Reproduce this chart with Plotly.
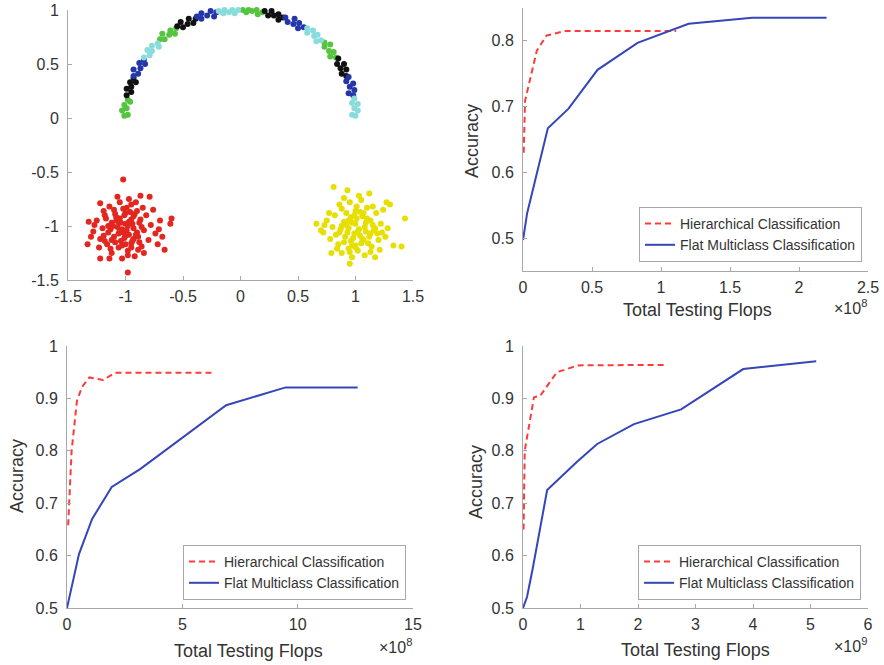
import plotly.graph_objects as go

# ---------------- data: top-left scatter ----------------
arc_green_x = [-0.98, -0.96, -1.01, -0.99, -1.03, -0.98, -1.01,
               -0.56, -0.57, -0.61, -0.62, -0.68, -0.66, -0.70,
               0.19, 0.15, 0.14, 0.10, 0.07, 0.05, 0.02,
               0.83, 0.78, 0.81, 0.77, 0.78, 0.73, 0.73]
arc_green_y = [0.17, 0.15, 0.12, 0.09, 0.07, 0.03, 0.02,
               0.83, 0.78, 0.81, 0.77, 0.78, 0.73, 0.73,
               0.98, 0.96, 1.00, 0.99, 1.00, 0.98, 1.00,
               0.56, 0.57, 0.61, 0.62, 0.68, 0.66, 0.70]
arc_black_x = [-0.93, -0.91, -0.96, -0.95, -0.99, -0.95, -0.99,
               -0.39, -0.41, -0.45, -0.46, -0.52, -0.50, -0.55,
               0.37, 0.33, 0.33, 0.29, 0.27, 0.24, 0.21,
               0.92, 0.88, 0.92, 0.87, 0.90, 0.84, 0.85]
arc_black_y = [0.37, 0.33, 0.33, 0.29, 0.27, 0.24, 0.21,
               0.92, 0.88, 0.92, 0.87, 0.89, 0.84, 0.85,
               0.93, 0.91, 0.96, 0.95, 0.99, 0.95, 0.99,
               0.39, 0.41, 0.45, 0.46, 0.50, 0.50, 0.55]
arc_blue_x = [-0.84, -0.83, -0.88, -0.87, -0.93, -0.89, -0.93,
              -0.21, -0.23, -0.26, -0.29, -0.34, -0.34, -0.38,
              0.55, 0.50, 0.51, 0.46, 0.47, 0.41, 0.39,
              0.98, 0.94, 0.99, 0.95, 0.98, 0.92, 0.94]
arc_blue_y = [0.54, 0.50, 0.51, 0.46, 0.45, 0.41, 0.39,
              0.98, 0.94, 0.99, 0.95, 0.97, 0.92, 0.94,
              0.84, 0.83, 0.88, 0.87, 0.92, 0.89, 0.93,
              0.21, 0.23, 0.26, 0.29, 0.32, 0.34, 0.38]
arc_cyan_x = [-0.72, -0.71, -0.77, -0.77, -0.81, -0.79, -0.84,
              -0.02, -0.05, -0.07, -0.10, -0.14, -0.15, -0.19,
              0.70, 0.66, 0.67, 0.64, 0.63, 0.58, 0.58,
              1.00, 0.97, 1.02, 0.99, 1.02, 0.97, 0.99]
arc_cyan_y = [0.69, 0.66, 0.67, 0.62, 0.63, 0.58, 0.56,
              1.00, 0.97, 1.00, 0.98, 1.00, 0.97, 0.99,
              0.72, 0.71, 0.77, 0.76, 0.81, 0.79, 0.83,
              0.02, 0.03, 0.07, 0.09, 0.13, 0.14, 0.18]

red_x = [-1.02, -0.87, -0.79, -1.22, -0.60, -0.61, -1.32, -1.33, -1.22, -1.14,
         -0.98, -0.66, -0.68, -0.71, -1.05, -0.95, -1.10, -0.90, -1.00, -1.18,
         -0.82, -1.05, -0.95, -1.25, -1.12, -0.88, -1.00, -0.78, -1.20, -1.07,
         -0.93, -0.84, -1.28, -1.15, -1.02, -0.97, -0.89, -1.10, -1.22, -0.80,
         -1.04, -0.95, -1.16, -0.86, -1.06, -0.98, -1.12, -0.92, -1.03, -0.76,
         -1.14, -0.99, -0.93, -1.08, -1.03, -0.98, -1.13, -0.90, -1.19, -0.74,
         -1.27, -0.85, -1.17, -1.01, -0.96, -1.09, -0.87, -1.04, -0.94, -1.11,
         -0.99, -1.06, -0.93, -1.01, -1.09, -0.88, -1.00, -1.13, -0.95, -0.84,
         -1.23, -1.30, -0.97, -1.07, -0.91, -0.70, -0.72, -1.19,
         -1.02, -0.92, -1.08, -0.97, -1.15, -0.86, -1.05, -0.91, -1.00, -1.12,
         -0.94, -1.03, -0.89, -1.18, -0.98, -1.06]
red_y = [-0.57, -0.72, -0.73, -0.79, -0.93, -0.98, -0.96, -1.17, -1.30, -1.30,
         -1.43, -1.22, -1.10, -1.03, -0.78, -0.80, -0.85, -0.86, -0.88, -0.90,
         -0.90, -0.93, -0.94, -0.95, -0.97, -0.97, -0.98, -0.99, -1.02, -1.01,
         -1.02, -1.04, -1.05, -1.06, -1.06, -1.08, -1.10, -1.10, -1.12, -1.13,
         -1.14, -1.16, -1.17, -1.19, -1.20, -1.23, -1.25, -1.28, -1.30, -0.85,
         -0.82, -0.83, -0.91, -0.95, -1.03, -1.00, -1.03, -1.06, -1.09, -1.07,
         -0.99, -0.83, -0.93, -0.90, -0.87, -0.89, -0.94, -0.97, -0.98, -1.00,
         -1.04, -1.07, -1.12, -1.11, -1.15, -1.15, -1.17, -1.21, -1.20, -1.25,
         -1.20, -1.10, -0.75, -0.73, -0.78, -0.95, -1.17, -0.86,
         -0.84, -0.89, -0.92, -0.96, -1.00, -1.01, -1.04, -1.08, -1.09, -1.13,
         -1.14, -1.18, -1.22, -1.14, -1.27, -0.96]

yellow_x = [0.81, 0.93, 1.12, 1.43, 1.40, 0.95, 0.66, 0.70, 1.33, 1.30,
            1.27, 0.79, 1.17, 0.95, 1.05, 0.88, 1.10, 1.00, 1.18, 0.82,
            0.96, 1.06, 0.75, 0.90, 1.13, 1.00, 1.22, 0.80, 0.94, 1.08,
            1.16, 0.72, 0.86, 0.99, 1.04, 1.12, 0.91, 0.78, 1.20, 0.96,
            1.05, 0.85, 1.14, 0.94, 1.02, 0.88, 1.08, 0.97, 1.24, 0.86,
            1.01, 1.07, 0.92, 1.15, 0.97, 1.03, 0.88, 1.19, 1.26, 0.73,
            1.15, 0.83, 1.01, 0.98, 1.09, 0.93, 1.06, 1.11, 0.90, 1.00,
            0.95, 1.13, 1.28, 0.77, 1.03, 0.90, 1.21, 0.84,
            1.04, 0.99, 1.10, 0.92, 1.17, 1.02, 0.87, 1.07, 0.97, 1.13,
            1.00, 0.94, 1.09, 1.23]
yellow_y = [-0.64, -0.67, -0.70, -0.93, -1.19, -1.35, -0.98, -1.04, -1.18, -0.80,
            -0.78, -1.25, -1.29, -0.78, -0.76, -0.84, -0.83, -0.86, -0.88, -0.90,
            -0.92, -0.91, -0.95, -0.96, -0.95, -0.98, -0.98, -1.01, -1.02, -1.01,
            -1.04, -1.06, -1.06, -1.07, -1.09, -1.10, -1.10, -1.12, -1.13, -1.14,
            -1.16, -1.17, -1.19, -1.21, -1.23, -1.25, -1.27, -1.29, -0.85, -0.80,
            -0.82, -0.88, -0.88, -0.99, -0.97, -1.03, -1.00, -1.07, -1.10, -0.99,
            -0.82, -1.08, -0.93, -1.11, -1.05, -1.06, -1.12, -1.16, -1.15, -1.18,
            -1.24, -1.24, -1.02, -0.88, -0.72, -0.74, -1.22, -1.21,
            -0.87, -0.90, -0.93, -0.99, -1.02, -1.05, -1.03, -1.13, -1.18, -1.07,
            -1.20, -0.95, -0.97, -1.06]

# ---------------- data: accuracy vs flops ----------------
# top-right (x in units of 1e8)
tr_flat_x = [0, 0.03, 0.18, 0.33, 0.54, 0.83, 1.2, 1.66, 2.2]
tr_flat_y = [0.497, 0.538, 0.667, 0.697, 0.756, 0.797, 0.826, 0.835, 0.835]
tr_hier_x = [0.005, 0.015, 0.1, 0.17, 0.3, 1.11]
tr_hier_y = [0.63, 0.709, 0.785, 0.808, 0.815, 0.815]
# bottom-left (x in units of 1e8)
bl_flat_x = [0, 0.52, 1.09, 1.94, 3.17, 6.9, 9.48, 12.6]
bl_flat_y = [0.5, 0.603, 0.67, 0.731, 0.765, 0.887, 0.921, 0.921]
bl_hier_x = [0.05, 0.2, 0.43, 0.65, 0.97, 1.57, 2.08, 6.3]
bl_hier_y = [0.658, 0.8, 0.895, 0.922, 0.94, 0.935, 0.949, 0.949]
# bottom-right (x in units of 1e9)
br_flat_x = [0, 0.07, 0.17, 0.42, 0.94, 1.29, 1.93, 2.75, 3.83, 5.1]
br_flat_y = [0.5, 0.521, 0.576, 0.725, 0.779, 0.813, 0.851, 0.879, 0.956, 0.971]
br_hier_x = [0.01, 0.03, 0.19, 0.3, 0.59, 0.96, 2.5]
br_hier_y = [0.65, 0.8, 0.902, 0.905, 0.95, 0.963, 0.964]

tl_ticks = [-1.5, -1, -0.5, 0, 0.5, 1, 1.5]
tl_ticktext = ["-1.5", "-1", "-0.5", "0", "0.5", "1", "1.5"]
acc_ticks = [0.5, 0.6, 0.7, 0.8, 0.9, 1]
tr_xticks = [0, 0.5, 1, 1.5, 2, 2.5]
bl_xticks = [0, 5, 10, 15]
br_xticks = [0, 1, 2, 3, 4, 5, 6]

hier_name = "Hierarchical Classification"
flat_name = "Flat Multiclass Classification"

W, H = 884, 665
FONT = "Liberation Sans, Arial, Helvetica, sans-serif"
AX = "#a8a8a8"
TXT = "#333333"
BLUE = "#3446b8"
RED = "#ff3a3a"

fig = go.Figure()

def mk(x, y, color, xa, ya):
    fig.add_trace(go.Scatter(x=x, y=y, mode="markers", xaxis=xa, yaxis=ya,
                             marker=dict(size=6, color=color, line=dict(width=0)),
                             showlegend=False, cliponaxis=False))

mk(arc_green_x, arc_green_y, "#55c43f", "x", "y")
mk(arc_black_x, arc_black_y, "#111111", "x", "y")
mk(arc_blue_x, arc_blue_y, "#2436a8", "x", "y")
mk(arc_cyan_x, arc_cyan_y, "#8adcdc", "x", "y")
mk(red_x, red_y, "#e3261f", "x", "y")
mk(yellow_x, yellow_y, "#e6df00", "x", "y")

def lines(hx, hy, fx, fy, xa, ya, leg):
    fig.add_trace(go.Scatter(x=hx, y=hy, mode="lines", name=hier_name, xaxis=xa, yaxis=ya,
                             line=dict(color=RED, width=2, dash="6px,4px"), legend=leg))
    fig.add_trace(go.Scatter(x=fx, y=fy, mode="lines", name=flat_name, xaxis=xa, yaxis=ya,
                             line=dict(color=BLUE, width=2), legend=leg))

lines(tr_hier_x, tr_hier_y, tr_flat_x, tr_flat_y, "x2", "y2", "legend")
lines(bl_hier_x, bl_hier_y, bl_flat_x, bl_flat_y, "x3", "y3", "legend2")
lines(br_hier_x, br_hier_y, br_flat_x, br_flat_y, "x4", "y4", "legend3")

def px(v):
    return v / W

def py(v):
    return 1 - v / H

def axis(dom, rng, ticks, anchor, text=None, standoff=0):
    d = dict(domain=dom, range=rng, tickvals=ticks, anchor=anchor, automargin=False,
             showline=True, linecolor=AX, linewidth=1, mirror=False,
             showgrid=False, zeroline=False, ticks="inside", ticklen=4,
             ticklabelstandoff=standoff,
             tickcolor=AX, tickfont=dict(size=16, color=TXT, family=FONT))
    if text is not None:
        d["ticktext"] = text
    return d

leg_common = dict(font=dict(size=14, color=TXT, family=FONT), bgcolor="white",
                  bordercolor=AX, borderwidth=1, xanchor="right", yanchor="bottom",
                  tracegroupgap=0, itemwidth=30)

fig.update_layout(
    width=W, height=H, margin=dict(l=0, r=0, t=0, b=0),
    paper_bgcolor="white", plot_bgcolor="white",
    font=dict(family=FONT, color=TXT),
    xaxis=axis([px(68), px(413)], [-1.5, 1.5], tl_ticks, "y", tl_ticktext, 2),
    yaxis=axis([py(280), py(10)], [-1.5, 1], tl_ticks[:-1], "x", tl_ticktext[:-1], 5),
    xaxis2=axis([px(523), px(868)], [0, 2.5], tr_xticks, "y2", None, 2),
    yaxis2=axis([py(271), py(8)], [0.45, 0.85], acc_ticks[:4], "x2", None, 5),
    xaxis3=axis([px(67), px(413)], [0, 15], bl_xticks, "y3", None, 2),
    yaxis3=axis([py(608), py(346)], [0.5, 1], acc_ticks, "x3", None, 5),
    xaxis4=axis([px(523), px(868)], [0, 6], br_xticks, "y4", None, 2),
    yaxis4=axis([py(608), py(346)], [0.5, 1], acc_ticks, "x4", None, 5),
    legend=dict(x=px(862), y=py(262), **leg_common),
    legend2=dict(x=px(406), y=py(600), **leg_common),
    legend3=dict(x=px(861), y=py(600), **leg_common),
)

def note(text, x, y, size, angle=0):
    fig.add_annotation(text=text, x=px(x), y=py(y), xref="paper", yref="paper",
                       showarrow=False, textangle=angle, xanchor="center", yanchor="middle",
                       font=dict(size=size, color=TXT, family=FONT))

note("Accuracy", 472, 141, 18, -90)
note("Accuracy", 17, 476, 18, -90)
note("Accuracy", 476, 482, 18, -90)
note("Total Testing Flops", 697, 310, 18)
note("Total Testing Flops", 248, 651, 18)
note("Total Testing Flops", 695, 650, 18)
note("×10<sup>8</sup>", 850, 307, 16)
note("×10<sup>8</sup>", 395, 646, 16)
note("×10<sup>9</sup>", 850, 645, 16)

fig.write_html("out.html")
